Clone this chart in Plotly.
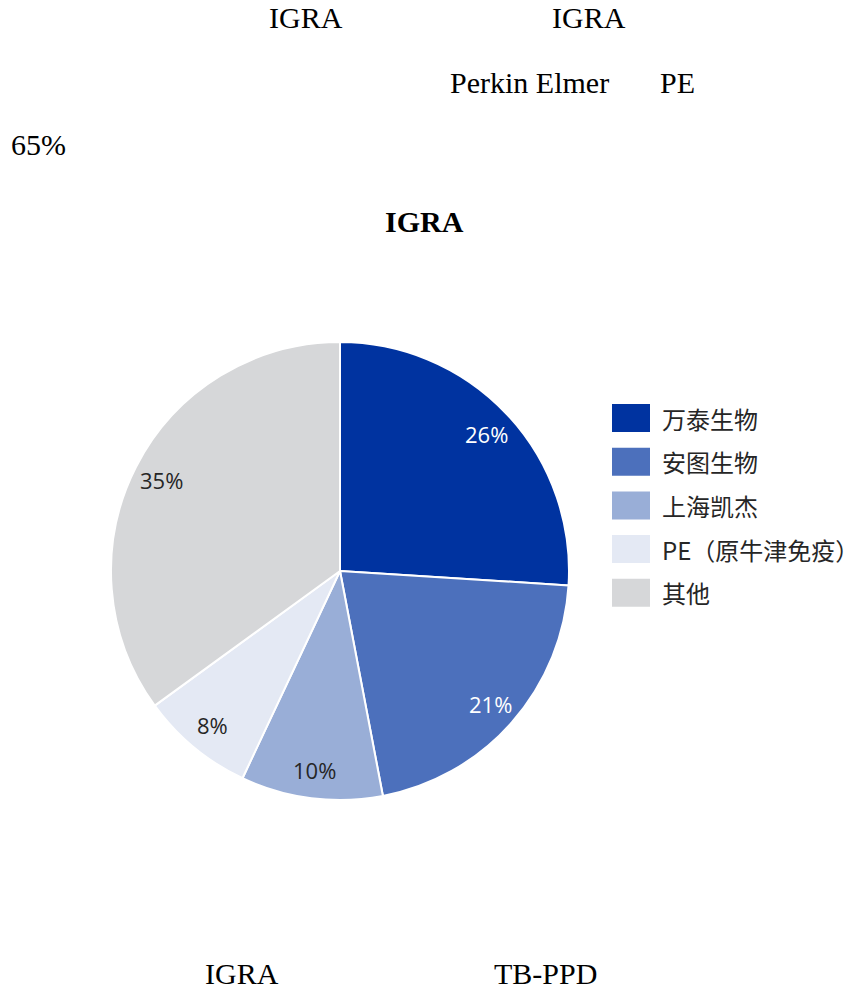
import math
import plotly.graph_objects as go

labels = ["万泰生物", "安图生物", "上海凯杰", "PE（原牛津免疫）", "其他"]
values = [26, 21, 10, 8, 35]
colors = ["#0033A0", "#4C70BC", "#99AED7", "#E4E9F4", "#D6D7D9"]
text_colors = ["#FFFFFF", "#FFFFFF", "#262626", "#262626", "#262626"]

W, H = 865, 993
CX, CY, R = 340, 571, 229

def px(x):
    return x / W

def py(y):
    return 1 - y / H

fig = go.Figure()
fig.add_trace(go.Pie(
    labels=labels, values=values, sort=False, direction="clockwise", rotation=0,
    marker=dict(colors=colors, line=dict(color="#FFFFFF", width=2)),
    textinfo="none",
    domain=dict(x=[px(CX - R), px(CX + R)], y=[py(CY + R), py(CY - R)]),
    showlegend=False, hoverinfo="label+percent",
))

# data labels at "inside end" positions derived from the values
total = sum(values)
cum = 0
for v, tc in zip(values, text_colors):
    mid = (cum + v / 2) / total * 2 * math.pi
    cum += v
    r = 0.875 * R
    fig.add_annotation(xref="paper", yref="paper",
                       x=px(CX + r * math.sin(mid)), y=py(CY - r * math.cos(mid)),
                       text=f"{round(v / total * 100)}%", showarrow=False,
                       xanchor="center", yanchor="middle",
                       font=dict(family="Open Sans", size=22, color=tc))

# custom legend
for i, (lab, col) in enumerate(zip(labels, colors)):
    yc = 418 + i * 43.7
    fig.add_shape(type="rect", xref="paper", yref="paper",
                  x0=px(612), x1=px(650), y0=py(yc + 14), y1=py(yc - 14),
                  fillcolor=col, line=dict(width=0))
    fig.add_annotation(xref="paper", yref="paper", x=px(660), y=py(yc),
                       text=lab, showarrow=False, xanchor="left", yanchor="middle",
                       font=dict(family="Noto Sans CJK SC", size=24, color="#262626"))

# surrounding document text (Latin fragments)
doc = [
    ("IGRA", 306, 18), ("IGRA", 589, 18),
    ("Perkin Elmer", 529, 82), ("PE", 677, 82),
    ("65%", 38, 145), ("<b>IGRA</b>", 424, 221),
    ("IGRA", 242, 973), ("TB-PPD", 545, 973),
]
for txt, x, y in doc:
    fig.add_annotation(xref="paper", yref="paper", x=px(x), y=py(y), text=txt,
                       showarrow=False, xanchor="center", yanchor="middle",
                       font=dict(family="Liberation Serif", size=30, color="#000000"))

fig.update_layout(width=W, height=H, margin=dict(l=0, r=0, t=0, b=0),
                  paper_bgcolor="#FFFFFF", plot_bgcolor="#FFFFFF")
fig.write_html("out.html", config={"displayModeBar": False},
               post_script="document.body.style.margin='0';document.body.style.overflow='hidden';")
